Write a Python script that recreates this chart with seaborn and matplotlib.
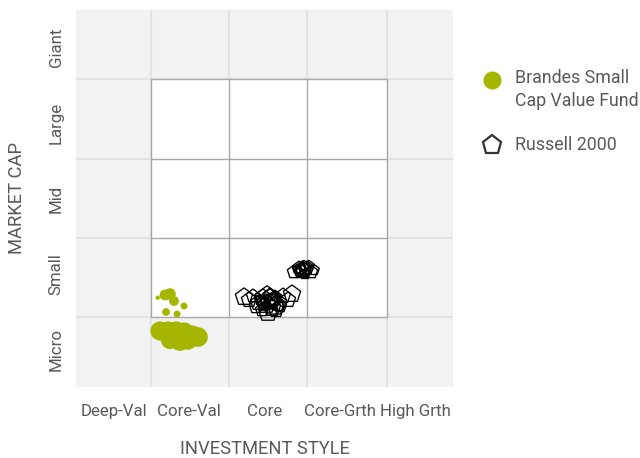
import numpy as np
import pandas as pd
import matplotlib
matplotlib.use("Agg")
import matplotlib.pyplot as plt
from matplotlib.lines import Line2D
import seaborn as sns

# Axis categories
styles = ['Deep-Val', 'Core-Val', 'Core', 'Core-Grth', 'High Grth']
caps = ['Micro', 'Small', 'Mid', 'Large', 'Giant']

# Style box boundaries (data units, axis runs 0..5)
x_bounds = [0.99, 2.03, 3.07, 4.12]
y_bounds = [0.93, 1.98, 3.03, 4.09]

# Brandes Small Cap Value Fund holdings zone
fund_x = [1.084, 1.18, 1.247, 1.30, 1.432, 1.194, 1.34,
          1.114, 1.22, 1.326, 1.432, 1.538, 1.618, 1.247, 1.379, 1.485]
fund_y = [1.184, 1.22, 1.233, 1.14, 1.074, 0.995, 0.968,
          0.743, 0.743, 0.743, 0.716, 0.676, 0.663, 0.623, 0.61, 0.623]
fund_s = [10, 60, 70, 50, 25, 32, 25,
          190, 190, 190, 230, 230, 200, 170, 200, 190]

# Russell 2000 holdings zone
idx_x = [2.228, 2.294, 2.347, 2.414, 2.480, 2.520, 2.573, 2.599, 2.546, 2.639,
         2.679, 2.745, 2.812, 2.865, 2.467, 2.387, 2.573, 2.653, 2.507, 2.586,
         2.440, 2.706, 2.533, 2.626, 2.560, 2.600, 2.490, 2.620,
         2.891, 2.958, 3.011, 3.064, 3.117, 3.037, 2.971, 3.090, 2.931, 3.024,
         3.156, 3.000, 3.040, 2.990]
idx_y = [1.194, 1.154, 1.207, 1.114, 1.180, 1.101, 1.154, 1.048, 0.995, 1.180,
         1.114, 1.207, 1.154, 1.233, 1.021, 1.061, 1.220, 1.021, 1.127, 1.114,
         1.154, 1.074, 1.180, 1.088, 1.130, 1.140, 1.090, 1.160,
         1.525, 1.578, 1.552, 1.578, 1.525, 1.499, 1.512, 1.605, 1.565, 1.605,
         1.552, 1.552, 1.560, 1.540]
idx_s = [170, 130, 100, 130, 170, 215, 260, 170, 215, 130,
         170, 130, 130, 170, 100, 100, 100, 130, 65, 45,
         65, 100, 310, 260, 150, 120, 90, 110,
         100, 100, 130, 100, 100, 65, 65, 65, 45, 65,
         65, 170, 90, 80]

fund_df = pd.DataFrame({'x': fund_x, 'y': fund_y, 's': fund_s})
idx_df = pd.DataFrame({'x': idx_x, 'y': idx_y, 's': idx_s})

green = '#a4b600'
text_col = '#595959'

sns.set_style('white')
plt.rcParams['font.family'] = ['Roboto', 'DejaVu Sans']

fig = plt.figure(figsize=(6.4, 4.58), dpi=100)
ax = fig.add_axes([76 / 640, 71 / 458, 377 / 640, 377 / 458])
ax.set_facecolor('#f2f2f2')
ax.set_xlim(0, 5)
ax.set_ylim(0, 5)

# light outer grid lines
for b in x_bounds:
    ax.axvline(b, color='#e2e2e2', lw=1.5, zorder=0)
for b in y_bounds:
    ax.axhline(b, color='#e2e2e2', lw=1.5, zorder=0)

# white style box with grey inner lines
ax.fill_between([x_bounds[0], x_bounds[-1]], y_bounds[0], y_bounds[-1],
                color='white', zorder=1, lw=0)
for b in x_bounds:
    ax.plot([b, b], [y_bounds[0], y_bounds[-1]], color='#a8a8a8', lw=1, zorder=2)
for b in y_bounds:
    ax.plot([x_bounds[0], x_bounds[-1]], [b, b], color='#a8a8a8', lw=1, zorder=2)

sns.scatterplot(data=fund_df, x='x', y='y', s=fund_df['s'], color=green,
                edgecolor='none', linewidth=0, legend=False, ax=ax, zorder=3)
sns.scatterplot(data=idx_df, x='x', y='y', s=idx_df['s'], marker='p',
                facecolor='none', edgecolor='black', linewidth=0.95,
                legend=False, ax=ax, zorder=4)
ax.collections[-1].set_facecolor('none')

for sp in ax.spines.values():
    sp.set_visible(False)

ax.set_xticks(np.arange(5) + 0.5)
ax.set_xticklabels(styles, fontsize=12.2, color=text_col)
ax.set_yticks(np.arange(5) + 0.5)
ax.set_yticklabels(caps, fontsize=12.2, color=text_col, rotation=90, va='center')
ax.tick_params(axis='x', length=0, pad=12)
ax.tick_params(axis='y', length=0, pad=9)
ax.set_xlabel('INVESTMENT STYLE', fontsize=13.2, color=text_col, va='center')
ax.set_ylabel('MARKET CAP', fontsize=13.2, color=text_col, va='center')
ax.xaxis.set_label_coords(0.5, (387 - 449) / 377)
ax.yaxis.set_label_coords((17 - 76) / 377, 0.5)

# legend drawn by hand so the marker sits on the first text line
fig.add_artist(Line2D([492 / 640], [1 - 80 / 458], marker='o', ls='none',
                      markersize=13, color=green, mec='none'))
fig.text(515 / 640, 1 - 69 / 458, 'Brandes Small\nCap Value Fund', fontsize=12.8,
         color=text_col, va='top', ha='left', linespacing=1.35)
fig.add_artist(Line2D([492 / 640], [1 - 145 / 458], marker='p', ls='none',
                      markersize=14, mfc='none', mec='#333333', mew=1.6))
fig.text(515 / 640, 1 - 145 / 458, 'Russell 2000', fontsize=12.8,
         color=text_col, va='center', ha='left')

fig.savefig('out.png', dpi=100)
